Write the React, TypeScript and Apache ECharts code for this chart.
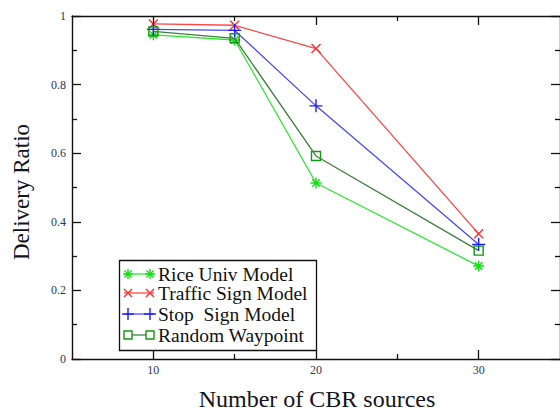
import React, { useEffect, useRef } from "react";
import * as echarts from "echarts";

// Number of CBR sources on the x axis
const sources = [10, 15, 20, 30];

// Delivery ratio per mobility model
const riceUniv = [0.945, 0.93, 0.513, 0.271];
const trafficSign = [0.977, 0.973, 0.905, 0.365];
const stopSign = [0.961, 0.958, 0.738, 0.334];
const randomWaypoint = [0.955, 0.935, 0.592, 0.316];

const seriesNames = [
  "Rice Univ Model",
  "Traffic Sign Model",
  "Stop  Sign Model",
  "Random Waypoint",
];

const xLabelTicks = [10, 20, 30];
const xMinorTicks = [15, 25];

const SERIF = "Liberation Serif";

type MarkerKind = "asterisk" | "cross" | "plus" | "square";

const styles: { kind: MarkerKind; line: string; mark: string }[] = [
  { kind: "asterisk", line: "#2ee82e", mark: "#14dd14" },
  { kind: "cross", line: "#ff4545", mark: "#ff3030" },
  { kind: "plus", line: "#4848ff", mark: "#1a1aff" },
  { kind: "square", line: "#3f7f3f", mark: "#139913" },
];

const symbolFor: Record<MarkerKind, { symbol: string; size: number }> = {
  asterisk: {
    symbol: "path://M5 0V10M0 5H10M1.6 1.6L8.4 8.4M1.6 8.4L8.4 1.6",
    size: 11,
  },
  cross: { symbol: "path://M0 0L10 10M0 10L10 0", size: 9 },
  plus: { symbol: "path://M5 0V10M0 5H10", size: 13 },
  square: { symbol: "rect", size: 9 },
};

// Small marker glyph built from graphic primitives, used in the legend box
function markerGraphic(kind: MarkerKind, cx: number, cy: number, color: string) {
  const st = { stroke: color, lineWidth: 1.4, fill: "none" };
  const ln = (x1: number, y1: number, x2: number, y2: number) => ({
    type: "line",
    shape: { x1: cx + x1, y1: cy + y1, x2: cx + x2, y2: cy + y2 },
    style: st,
  });
  if (kind === "asterisk") {
    return [ln(0, -5, 0, 5), ln(-5, 0, 5, 0), ln(-3.5, -3.5, 3.5, 3.5), ln(-3.5, 3.5, 3.5, -3.5)];
  }
  if (kind === "cross") {
    return [ln(-4, -4, 4, 4), ln(-4, 4, 4, -4)];
  }
  if (kind === "plus") {
    return [ln(0, -6, 0, 6), ln(-6, 0, 6, 0)];
  }
  return [
    {
      type: "rect",
      shape: { x: cx - 4, y: cy - 4, width: 8, height: 8 },
      style: { stroke: color, lineWidth: 1.4, fill: "#fff" },
    },
  ];
}

function buildLegend() {
  const rowsY = [274, 293, 314, 335];
  const children: any[] = [
    {
      type: "rect",
      shape: { x: 119.5, y: 260.5, width: 197, height: 90 },
      style: { fill: "#fff", stroke: "#111", lineWidth: 1.3 },
    },
  ];
  seriesNames.forEach((name, i) => {
    const y = rowsY[i];
    const s = styles[i];
    children.push({
      type: "line",
      shape: { x1: 124, y1: y, x2: 154, y2: y },
      style: { stroke: s.line, lineWidth: 1.3 },
    });
    children.push(...markerGraphic(s.kind, 128, y, s.mark));
    children.push(...markerGraphic(s.kind, 150, y, s.mark));
    children.push({
      type: "text",
      x: 158,
      y: y,
      style: {
        text: name,
        fontFamily: SERIF,
        fontSize: 19.5,
        fill: "#111",
        textAlign: "left",
        textVerticalAlign: "middle",
      },
    });
  });
  return { type: "group", children, z: 100 };
}

export default function App() {
  const ref = useRef<HTMLDivElement>(null);

  useEffect(() => {
    if (!ref.current) return;
    const chart = echarts.init(ref.current, null, { renderer: "svg" });

    const dataSets = [riceUniv, trafficSign, stopSign, randomWaypoint];
    const axisLine = { show: true, lineStyle: { color: "#111", width: 1.4 } };
    const tickLine = { color: "#111", width: 1.3 };

    const xBase = {
      type: "value",
      min: 5,
      max: 35,
      interval: 5,
      splitLine: { show: false },
    };

    chart.setOption({
      animation: false,
      backgroundColor: "#fff",
      grid: { left: 72, top: 16, right: -2, bottom: 53 },
      xAxis: [
        {
          ...xBase,
          position: "bottom",
          axisLine,
          axisTick: { inside: true, length: 9, lineStyle: tickLine, customValues: xLabelTicks },
          axisLabel: {
            customValues: xLabelTicks,
            fontFamily: SERIF,
            fontSize: 12,
            color: "#2d3556",
            margin: 5,
          },
        },
        {
          ...xBase,
          position: "bottom",
          axisLine: { show: false },
          axisTick: { inside: true, length: 5, lineStyle: tickLine, customValues: xMinorTicks },
          axisLabel: { show: false },
        },
        {
          ...xBase,
          position: "top",
          axisLine,
          axisTick: { inside: true, length: 9, lineStyle: tickLine, customValues: xLabelTicks },
          axisLabel: { show: false },
        },
        {
          ...xBase,
          position: "top",
          axisLine: { show: false },
          axisTick: { inside: true, length: 5, lineStyle: tickLine, customValues: xMinorTicks },
          axisLabel: { show: false },
        },
      ],
      yAxis: [
        {
          type: "value",
          position: "left",
          min: 0,
          max: 1,
          interval: 0.2,
          axisLine,
          axisTick: { inside: true, length: 9, lineStyle: tickLine },
          minorTick: { show: true, splitNumber: 2, length: 5, lineStyle: tickLine },
          splitLine: { show: false },
          axisLabel: {
            fontFamily: SERIF,
            fontSize: 12,
            color: "#2d3556",
            margin: 6,
          },
        },
        {
          type: "value",
          position: "right",
          min: 0,
          max: 1,
          interval: 0.2,
          axisLine,
          axisTick: { inside: true, length: 9, lineStyle: tickLine },
          minorTick: { show: true, splitNumber: 2, length: 5, lineStyle: tickLine },
          splitLine: { show: false },
          axisLabel: { show: false },
        },
      ],
      series: dataSets.map((vals, i) => {
        const s = styles[i];
        const sym = symbolFor[s.kind];
        return {
          name: seriesNames[i],
          type: "line",
          xAxisIndex: 0,
          yAxisIndex: 0,
          data: sources.map((x, j) => [x, vals[j]]),
          symbol: sym.symbol,
          symbolSize: sym.size,
          showAllSymbol: true,
          lineStyle: { color: s.line, width: 1.3 },
          itemStyle: {
            color: s.kind === "square" ? "rgba(255,255,255,0)" : s.mark,
            borderColor: s.mark,
            borderWidth: 1.4,
          },
          emphasis: { disabled: true },
          z: 3 + i,
        };
      }),
      graphic: [
        buildLegend(),
        {
          type: "text",
          x: 317,
          y: 399,
          style: {
            text: "Number of CBR sources",
            fontFamily: SERIF,
            fontSize: 24,
            fill: "#141420",
            textAlign: "center",
            textVerticalAlign: "middle",
          },
        },
        {
          type: "text",
          x: 21,
          y: 192,
          rotation: Math.PI / 2,
          style: {
            text: "Delivery Ratio",
            fontFamily: SERIF,
            fontSize: 23,
            fill: "#141420",
            textAlign: "center",
            textVerticalAlign: "middle",
          },
        },
      ],
    });

    return () => chart.dispose();
  }, []);

  return (
    <div
      ref={ref}
      style={{ position: "fixed", left: 0, top: 0, width: 560, height: 412 }}
    />
  );
}
